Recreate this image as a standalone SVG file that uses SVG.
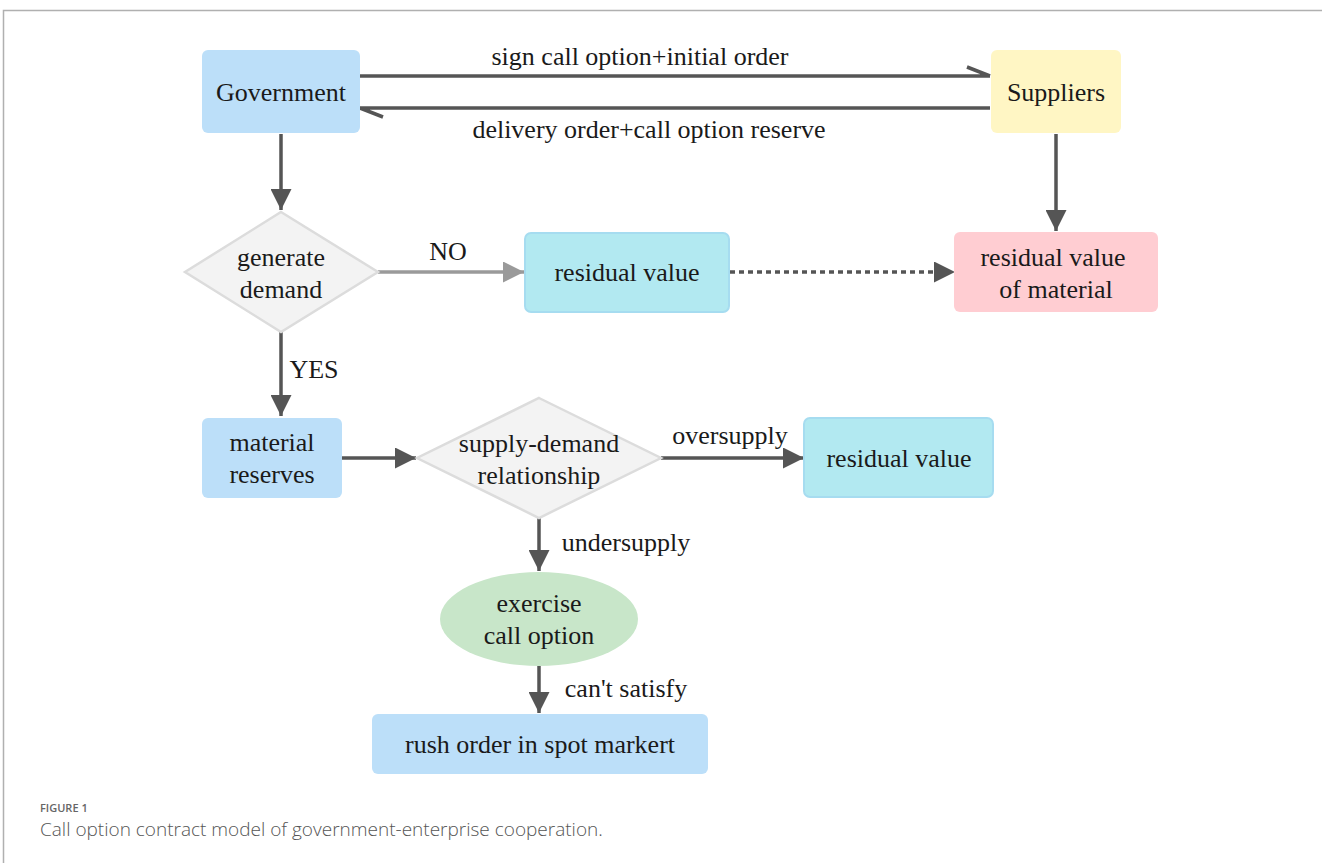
<svg xmlns="http://www.w3.org/2000/svg" width="1322" height="863" viewBox="0 0 1322 863">
  <defs>
    <style>
      .lbl { font-family: "Liberation Serif", "Times New Roman", serif; font-size: 26px; fill: #1a1a1a; text-anchor: middle; }
      .edge { stroke: #555; stroke-width: 3.5; fill: none; }
      .box { rx: 6; ry: 6; }
      .dia { fill: #f3f3f3; stroke: #dcdcdc; stroke-width: 2.5; }
      .cap1 { font-family: "Open Sans", "Noto Sans", sans-serif; font-size: 11px; fill: #666; font-weight: 600; }
      .cap2 { font-family: "Open Sans", "Noto Sans", sans-serif; font-size: 19px; fill: #555; font-weight: 300; }
    </style>
    <marker id="arr" viewBox="0 0 10 10" refX="10" refY="5" markerWidth="7" markerHeight="6" markerUnits="strokeWidth" orient="auto">
      <path d="M0,0 L10,5 L0,10 z" fill="#555"/>
    </marker>
    <marker id="arrLight" viewBox="0 0 10 10" refX="10" refY="5" markerWidth="7" markerHeight="6" markerUnits="strokeWidth" orient="auto">
      <path d="M0,0 L10,5 L0,10 z" fill="#9a9a9a"/>
    </marker>
  </defs>

  <rect width="1322" height="863" fill="#fff"/>
  <!-- figure frame -->
  <path d="M3.5,863 V10.5 H1322" fill="none" stroke="#b0b0b0" stroke-width="1.5"/>

  <!-- connectors -->
  <g id="connectors">
    <!-- contract exchange with half arrowheads -->
    <path class="edge" d="M360,76 H990 M990,76 L967,67"/>
    <path class="edge" d="M990,108 H360 M360,108 L383,117"/>
    <text class="lbl" x="640" y="65">sign call option+initial order</text>
    <text class="lbl" x="649" y="138">delivery order+call option reserve</text>

    <line class="edge" x1="281" y1="134" x2="281" y2="210" marker-end="url(#arr)"/>
    <line x1="378" y1="272" x2="524" y2="272" stroke="#9a9a9a" stroke-width="3.5" marker-end="url(#arrLight)"/>
    <text class="lbl" x="448" y="260">NO</text>
    <line class="edge" x1="730" y1="272" x2="955" y2="272" stroke-dasharray="5 4" stroke-width="4" marker-end="url(#arr)"/>
    <line class="edge" x1="1056" y1="134" x2="1056" y2="231" marker-end="url(#arr)"/>

    <line class="edge" x1="281" y1="332" x2="281" y2="416" marker-end="url(#arr)"/>
    <text class="lbl" x="314" y="378">YES</text>

    <line class="edge" x1="342" y1="458" x2="416" y2="458" marker-end="url(#arr)"/>
    <line class="edge" x1="661" y1="458" x2="804" y2="458" marker-end="url(#arr)"/>
    <text class="lbl" x="730" y="444">oversupply</text>

    <line class="edge" x1="539" y1="518" x2="539" y2="571" marker-end="url(#arr)"/>
    <text class="lbl" x="626" y="551">undersupply</text>

    <line class="edge" x1="539" y1="666" x2="539" y2="713" marker-end="url(#arr)"/>
    <text class="lbl" x="626" y="697">can't satisfy</text>
  </g>

  <g id="government">
    <rect class="box" x="202" y="50" width="158" height="83" fill="#bcdff9"/>
    <text class="lbl" x="281" y="101">Government</text>
  </g>

  <g id="suppliers">
    <rect class="box" x="991" y="50" width="130" height="83" fill="#fff6c4"/>
    <text class="lbl" x="1056" y="101">Suppliers</text>
  </g>

  <g id="generate-demand">
    <polygon class="dia" points="281,212 378,272 281,332 185,272"/>
    <text class="lbl" x="281" y="266">generate</text>
    <text class="lbl" x="281" y="298">demand</text>
  </g>

  <g id="residual-value-1">
    <rect class="box" x="525" y="233" width="204" height="79" fill="#b2e9f1" stroke="#a6dcf0" stroke-width="2"/>
    <text class="lbl" x="627" y="281">residual value</text>
  </g>

  <g id="residual-material">
    <rect class="box" x="954" y="232" width="204" height="80" fill="#ffcdd2"/>
    <text class="lbl" x="1053" y="266">residual value</text>
    <text class="lbl" x="1056" y="298">of material</text>
  </g>

  <g id="material-reserves">
    <rect class="box" x="202" y="418" width="140" height="80" fill="#bcdff9"/>
    <text class="lbl" x="272" y="451">material</text>
    <text class="lbl" x="272" y="483">reserves</text>
  </g>

  <g id="supply-demand">
    <polygon class="dia" points="539,398 661,458 539,518 417,458"/>
    <text class="lbl" x="539" y="452">supply-demand</text>
    <text class="lbl" x="539" y="484">relationship</text>
  </g>

  <g id="residual-value-2">
    <rect class="box" x="804" y="418" width="189" height="79" fill="#b2e9f1" stroke="#a6dcf0" stroke-width="2"/>
    <text class="lbl" x="899" y="467">residual value</text>
  </g>

  <g id="exercise-call">
    <ellipse cx="539" cy="619" rx="99" ry="47" fill="#c8e6c9"/>
    <text class="lbl" x="539" y="612">exercise</text>
    <text class="lbl" x="539" y="644">call option</text>
  </g>

  <g id="rush-order">
    <rect class="box" x="372" y="714" width="336" height="60" fill="#bcdff9"/>
    <text class="lbl" x="540" y="753">rush order in spot markert</text>
  </g>

  <!-- caption -->
  <text class="cap1" x="40" y="812">FIGURE 1</text>
  <text class="cap2" x="40" y="836">Call option contract model of government-enterprise cooperation.</text>
</svg>
